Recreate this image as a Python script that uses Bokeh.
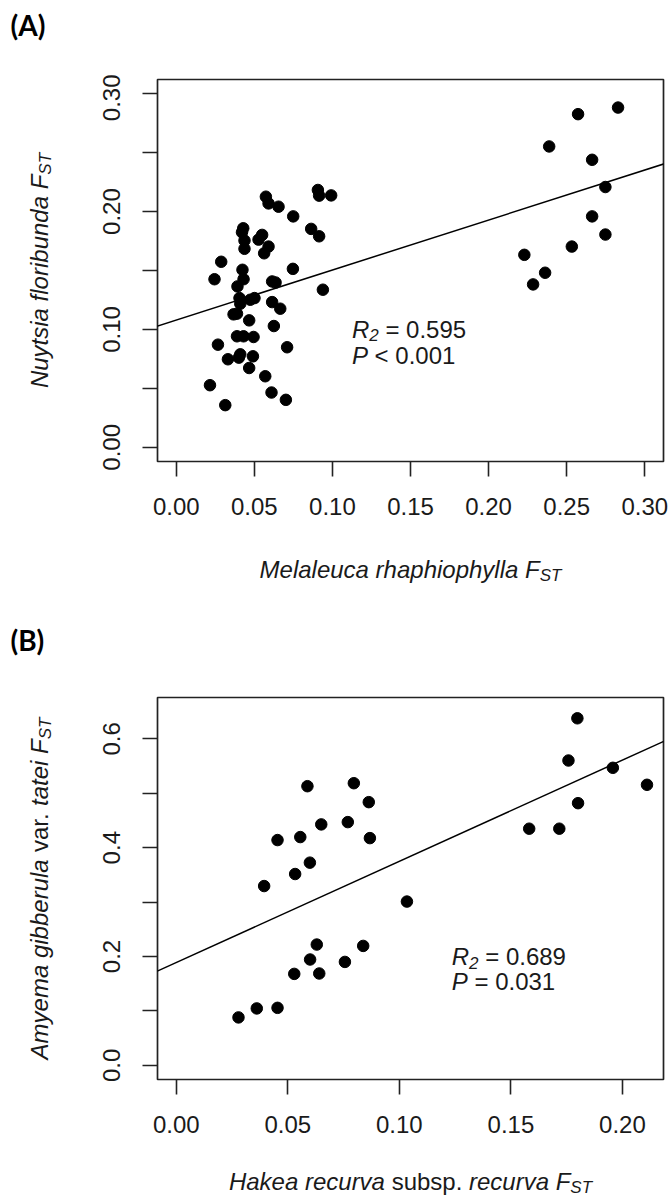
import math
from bokeh.plotting import figure
from bokeh.models import Range1d, FixedTicker, PrintfTickFormatter, Slope, Label
from bokeh.layouts import column, row
from bokeh.embed import file_html
from bokeh.resources import INLINE

# ---------------- Panel A data ----------------
melaleuca_fst = [0.0574, 0.0591, 0.0655, 0.0907, 0.0915, 0.0992, 0.0749, 0.0429, 0.0421, 0.0437,
                 0.0437, 0.0527, 0.0550, 0.0591, 0.0563, 0.0864, 0.0915, 0.0288, 0.0424, 0.0245,
                 0.0431, 0.0392, 0.0747, 0.0614, 0.0636, 0.0939, 0.0405, 0.0410, 0.0474, 0.0501,
                 0.0367, 0.0389, 0.0614, 0.0666, 0.0467, 0.0625, 0.0389, 0.0431, 0.0495, 0.0267,
                 0.0710, 0.0331, 0.0410, 0.0401, 0.0491, 0.0467, 0.0570, 0.0216, 0.0610, 0.0702,
                 0.0314,
                 0.2573, 0.2829, 0.2388, 0.2663, 0.2748, 0.2663, 0.2748, 0.2533, 0.2229, 0.2362,
                 0.2285]
nuytsia_fst = [0.2126, 0.2069, 0.2041, 0.2183, 0.2135, 0.2137, 0.1959, 0.1858, 0.1824, 0.1754,
               0.1684, 0.1762, 0.1802, 0.1703, 0.1646, 0.1853, 0.1790, 0.1574, 0.1506, 0.1426,
               0.1426, 0.1365, 0.1514, 0.1407, 0.1398, 0.1337, 0.1266, 0.1218, 0.1252, 0.1266,
               0.1128, 0.1134, 0.1232, 0.1176, 0.1077, 0.1029, 0.0942, 0.0942, 0.0936, 0.0871,
               0.0849, 0.0747, 0.0789, 0.0761, 0.0772, 0.0673, 0.0603, 0.0527, 0.0465, 0.0403,
               0.0358,
               0.2826, 0.2882, 0.2552, 0.2439, 0.2208, 0.1959, 0.1805, 0.1703, 0.1633, 0.1481,
               0.1382]
a_fit_intercept = 0.108
a_fit_slope = 0.424
a_x_ticks = [0.00, 0.05, 0.10, 0.15, 0.20, 0.25, 0.30]
a_y_ticks = [0.00, 0.10, 0.20, 0.30]
a_y_minor_ticks = [0.05, 0.15, 0.25]

# ---------------- Panel B data ----------------
hakea_fst = [0.0588, 0.0796, 0.0863, 0.0650, 0.0769, 0.0868, 0.0454, 0.0556, 0.0599, 0.0533,
             0.0394, 0.1034, 0.0630, 0.0838, 0.0600, 0.0756, 0.0529, 0.0641, 0.0279, 0.0361,
             0.0454, 0.1798, 0.1758, 0.1957, 0.2110, 0.1801, 0.1582, 0.1717]
amyema_fst = [0.513, 0.5185, 0.4837, 0.4428, 0.447, 0.4176, 0.414, 0.4195, 0.3725, 0.3516,
              0.3295, 0.301, 0.222, 0.2195, 0.1945, 0.1901, 0.1681, 0.1688, 0.0881, 0.1046,
              0.1057, 0.6378, 0.5602, 0.5468, 0.5156, 0.4818, 0.4349, 0.4349]
b_fit_intercept = 0.189
b_fit_slope = 1.86
b_x_ticks = [0.00, 0.05, 0.10, 0.15, 0.20]
b_y_ticks = [0.0, 0.2, 0.4, 0.6]
b_y_minor_ticks = [0.1, 0.3, 0.5]

# ---------------- styling / layout ----------------
FONT = "Liberation Sans"
INK = "#1a1a1a"
K_LIB = 0.3465   # middle of the text box above the baseline, in em (Liberation Sans)
K_LATO = 0.387
PANEL_W, PANEL_H = 612, 457
BORDER_T, BORDER_B = 5, 70
FRAME_H = PANEL_H - BORDER_T - BORDER_B   # 382
W = {' ': 278, '.': 278, '=': 584, '<': 584,
     'A': 667, 'F': 611, 'H': 722, 'M': 833, 'N': 722, 'P': 667, 'R': 722, 'S': 667, 'T': 611,
     'a': 556, 'b': 556, 'c': 500, 'd': 556, 'e': 556, 'f': 278, 'g': 556, 'h': 556, 'i': 222,
     'k': 500, 'l': 222, 'm': 833, 'n': 556, 'o': 556, 'p': 556, 'r': 333, 's': 500, 't': 278,
     'u': 556, 'v': 500, 'y': 500}
for d in "0123456789":
    W[d] = 556


def tw(s, size):
    return sum(W.get(c, 556) for c in s) * size / 1000.0


def _label(**kw):
    base = dict(text_font=FONT, text_color=INK, text_align="left", text_baseline="middle")
    base.update(kw)
    return Label(**base)


def add_rich_data(p, pieces, x, y):
    """Pieces at a data point (baseline at y); pixel offsets between pieces."""
    off = 0.0
    for text, style, size, shift in pieces:
        lead = len(text) - len(text.lstrip(" "))
        off += tw(" " * lead, size)
        t = text.strip(" ")
        p.add_layout(_label(x=x, y=y, x_offset=off, y_offset=shift + K_LIB * size, text=t,
                            text_font_style=style, text_font_size=f"{size}px"))
        off += tw(text.lstrip(" "), size)


def add_rich_px(f, pieces, x, y, rotated=False):
    """Pieces in a text strip (pixels from its top-left). Text centred on (x, y) along its run;
    the other coordinate is the baseline."""
    total = sum(tw(t, s) for t, st, s, sh in pieces)
    off = -total / 2.0
    for text, style, size, shift in pieces:
        lead = len(text) - len(text.lstrip(" "))
        off += tw(" " * lead, size)
        t = text.strip(" ")
        w = tw(t, size)
        if rotated:
            lab = _label(x=(x - shift) - K_LIB * size, y=y - (off + w / 2.0), angle=math.pi / 2,
                         text_align="center", text=t,
                         text_font_style=style, text_font_size=f"{size}px")
        else:
            lab = _label(x=x + off + w / 2.0, y=(y - shift) - K_LIB * size, text_align="center",
                         text=t, text_font_style=style, text_font_size=f"{size}px")
        f.add_layout(lab)
        off += tw(text.lstrip(" "), size)


def panel_tag(f, text, x, baseline):
    f.add_layout(Label(x=x, y=baseline - K_LATO * 28, text=text, text_font="Lato",
                       text_font_style="bold", text_font_size="28px", text_color="black",
                       text_align="left", text_baseline="middle"))


def text_strip(w, h, top=0, bottom=0):
    # data coordinates = pixels from the strip's top-left corner
    f = figure(width=w, height=h, x_range=Range1d(0, w), y_range=Range1d(h - bottom, top),
               output_backend="svg", toolbar_location=None,
               min_border_left=0, min_border_right=0, min_border_top=top, min_border_bottom=bottom,
               x_axis_type=None, y_axis_type=None)
    f.outline_line_color = None
    f.background_fill_color = "white"
    f.border_fill_color = "white"
    return f


def make_panel(xs, ys, xr, yr, xticks, yticks, yminor, xfmt, yfmt, intercept, slope):
    p = figure(width=PANEL_W, height=PANEL_H, x_range=Range1d(*xr), y_range=Range1d(*yr),
               output_backend="svg", toolbar_location=None,
               min_border_left=97, min_border_right=9, min_border_top=BORDER_T,
               min_border_bottom=BORDER_B)
    p.xgrid.visible = False
    p.ygrid.visible = False
    p.background_fill_color = "white"
    p.border_fill_color = "white"
    p.outline_line_color = "#222222"
    p.outline_line_width = 1.7
    p.outline_line_alpha = 1.0
    p.xaxis.ticker = FixedTicker(ticks=xticks)
    p.yaxis.ticker = FixedTicker(ticks=yticks, minor_ticks=yminor)
    p.xaxis.formatter = PrintfTickFormatter(format=xfmt)
    p.yaxis.formatter = PrintfTickFormatter(format=yfmt)
    for ax in (p.xaxis[0], p.yaxis[0]):
        ax.axis_line_color = None
        ax.major_tick_out = 15
        ax.major_tick_in = 0
        ax.minor_tick_out = 15
        ax.minor_tick_in = 0
        ax.major_tick_line_width = 1.6
        ax.minor_tick_line_width = 1.6
        ax.major_tick_line_color = "#222222"
        ax.minor_tick_line_color = "#222222"
        ax.major_label_text_font = FONT
        ax.major_label_text_font_size = "24px"
        ax.major_label_text_color = INK
    p.xaxis.major_label_standoff = 21
    p.yaxis.major_label_standoff = 22
    p.yaxis.major_label_orientation = "vertical"
    p.scatter(xs, ys, size=11.5, color="black", line_color="black")
    p.add_layout(Slope(gradient=slope, y_intercept=intercept, line_color="black", line_width=1.5))
    return p


# Panel A
pA = make_panel(melaleuca_fst, nuytsia_fst, (-0.012, 0.312), (-0.012, 0.312),
                a_x_ticks, a_y_ticks, a_y_minor_ticks, "%.2f", "%.2f",
                a_fit_intercept, a_fit_slope)
add_rich_data(pA, [("R", "italic", 24, 0), ("2", "italic", 17, -4), (" = 0.595", "normal", 24, 0)],
              0.1125, 0.0933)
add_rich_data(pA, [("P", "italic", 24, 0), (" < 0.001", "normal", 24, 0)], 0.1125, 0.0705)

# Panel B
pB = make_panel(hakea_fst, amyema_fst, (-0.0084, 0.2184), (-0.026, 0.676),
                b_x_ticks, b_y_ticks, b_y_minor_ticks, "%.2f", "%.1f",
                b_fit_intercept, b_fit_slope)
add_rich_data(pB, [("R", "italic", 24, 0), ("2", "italic", 17, -4), (" = 0.689", "normal", 24, 0)],
              0.1235, 0.184)
add_rich_data(pB, [("P", "italic", 24, 0), (" = 0.031", "normal", 24, 0)], 0.1235, 0.138)

# text strips (heights: 74 + 457 + 161 + 457 + 49 = 1198)
top = text_strip(672, 74)
panel_tag(top, "(A)", 10, 35)

ylabA = text_strip(60, PANEL_H, top=BORDER_T, bottom=BORDER_B)
add_rich_px(ylabA, [("Nuytsia floribunda ", "italic", 24, 0), ("F", "italic", 24, 0),
                    ("ST", "italic", 17, -4)], 47, BORDER_T + FRAME_H / 2, rotated=True)

mid = text_strip(672, 161)
add_rich_px(mid, [("Melaleuca rhaphiophylla ", "italic", 24, 0), ("F", "italic", 24, 0),
                  ("ST", "italic", 17, -4)], 410, 46)
panel_tag(mid, "(B)", 10, 119)

ylabB = text_strip(60, PANEL_H, top=BORDER_T, bottom=BORDER_B)
add_rich_px(ylabB, [("Amyema gibberula ", "italic", 24, 0), ("var. ", "normal", 24, 0),
                    ("tatei ", "italic", 24, 0), ("F", "italic", 24, 0), ("ST", "italic", 17, -4)],
            47, BORDER_T + FRAME_H / 2, rotated=True)

bot = text_strip(672, 49)
add_rich_px(bot, [("Hakea recurva ", "italic", 24, 0), ("subsp. ", "normal", 24, 0),
                  ("recurva ", "italic", 24, 0), ("F", "italic", 24, 0), ("ST", "italic", 17, -4)],
            410, 40)

layout = column(top, row(ylabA, pA, spacing=0), mid, row(ylabB, pB, spacing=0), bot, spacing=0)
open("out.html", "w").write(file_html(layout, INLINE))
